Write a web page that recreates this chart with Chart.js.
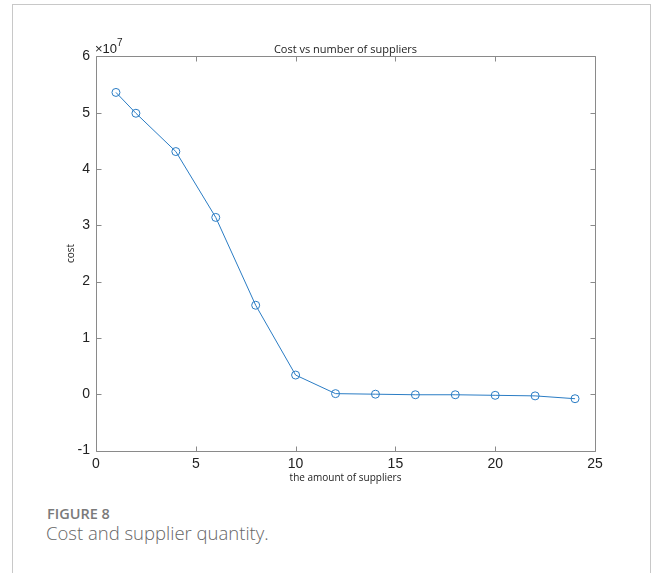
<!DOCTYPE html>
<html>
<head>
<meta charset="utf-8">
<script src="https://cdn.jsdelivr.net/npm/chart.js@4/dist/chart.umd.min.js"></script>
<style>
html,body{margin:0;padding:0;background:#fff;width:656px;height:573px;overflow:hidden;}
#frame{position:absolute;left:12px;top:4px;width:637px;height:640px;border:1.5px solid #c8c8c8;border-bottom:none;}
#wrap{position:absolute;left:0;top:0;width:656px;height:495px;}
#exp{position:absolute;left:95px;top:41px;font-family:'Liberation Sans',Arial,sans-serif;font-size:13px;line-height:15px;color:#222;white-space:nowrap;}
#exp sup{font-size:10px;position:relative;top:-3px;vertical-align:top;line-height:10px;}
#figlabel{position:absolute;left:47px;top:503.5px;font-family:'Open Sans',sans-serif;font-weight:600;font-size:14.5px;color:#7a7a7a;}
#figcap{position:absolute;left:46px;top:520px;font-family:'Open Sans',sans-serif;font-weight:300;font-size:18.5px;color:#666;}
</style>
</head>
<body>
<div id="frame"></div>
<div id="wrap"><canvas id="c" width="656" height="495"></canvas></div>
<div id="exp">×10<sup>7</sup></div>
<div id="figlabel">FIGURE 8</div>
<div id="figcap">Cost and supplier quantity.</div>
<script>
const chartTitle = 'Cost vs number of suppliers';
const xAxisTitle = 'the amount of suppliers';
const yAxisTitle = 'cost';
const supplierCounts = [1, 2, 4, 6, 8, 10, 12, 14, 16, 18, 20, 22, 24];
const costValues = [53600000, 49900000, 43100000, 31400000, 15800000, 3400000, 100000, 0, -100000, -100000, -200000, -300000, -800000];
const xTickValues = [0, 5, 10, 15, 20, 25];
const yTickValues = [-1, 0, 1, 2, 3, 4, 5, 6];
const yExponent = 1e7;

const points = supplierCounts.map((x, i) => ({ x: x, y: costValues[i] }));

const boxPlugin = {
  id: 'matlabBox',
  afterDraw(chart) {
    const ctx = chart.ctx;
    const a = chart.chartArea;
    const xs = chart.scales.x, ys = chart.scales.y;
    const L = Math.round(a.left) + 0.5, R = Math.round(a.right) + 0.5;
    const T = Math.round(a.top) + 0.5, B = Math.round(a.bottom) + 0.5;
    ctx.save();
    ctx.strokeStyle = '#8a8a8a';
    ctx.lineWidth = 1;
    ctx.beginPath();
    ctx.rect(L, T, R - L, B - T);
    const tl = 5;
    xs.ticks.forEach(t => {
      const px = Math.round(xs.getPixelForValue(t.value)) + 0.5;
      ctx.moveTo(px, B); ctx.lineTo(px, B - tl);
      ctx.moveTo(px, T); ctx.lineTo(px, T + tl);
    });
    ys.ticks.forEach(t => {
      const py = Math.round(ys.getPixelForValue(t.value)) + 0.5;
      ctx.moveTo(L, py); ctx.lineTo(L + tl, py);
      ctx.moveTo(R, py); ctx.lineTo(R - tl, py);
    });
    ctx.stroke();
    ctx.restore();
  }
};

new Chart(document.getElementById('c'), {
  type: 'line',
  data: {
    datasets: [{
      data: points,
      borderColor: '#2a7cc4',
      borderWidth: 1,
      pointStyle: 'circle',
      pointRadius: 4,
      pointBorderWidth: 1,
      pointBorderColor: '#2a7cc4',
      pointBackgroundColor: 'rgba(0,0,0,0)',
      tension: 0,
      fill: false
    }]
  },
  options: {
    responsive: false,
    animation: false,
    devicePixelRatio: 1,
    layout: { padding: { top: 43.2, right: 61, left: 0, bottom: 0 } },
    plugins: {
      legend: { display: false },
      tooltip: { enabled: false },
      title: {
        display: true,
        text: chartTitle,
        fullSize: false,
        color: '#222',
        font: { family: 'Open Sans', size: 11, weight: 'normal' },
        padding: 0
      }
    },
    scales: {
      x: {
        type: 'linear',
        min: 0, max: 25,
        afterBuildTicks: s => { s.ticks = xTickValues.map(v => ({ value: v })); },
        afterFit: s => { s.height = 495 - 450.5; },
        grid: { display: false, drawTicks: false },
        border: { display: false },
        ticks: { color: '#222', padding: 5, maxRotation: 0, font: { family: 'Liberation Sans', size: 14 } },
        title: { display: true, text: xAxisTitle, color: '#222', font: { family: 'Open Sans', size: 10 }, padding: { top: 0, bottom: 10.7 } }
      },
      y: {
        type: 'linear',
        min: -1 * yExponent, max: 6 * yExponent,
        afterBuildTicks: s => { s.ticks = yTickValues.map(v => ({ value: v * yExponent })); },
        afterFit: s => { s.width = 96; },
        grid: { display: false, drawTicks: false },
        border: { display: false },
        ticks: { color: '#222', padding: 6, callback: v => String(Math.round(v / yExponent)), font: { family: 'Liberation Sans', size: 14 } },
        title: { display: true, text: yAxisTitle, color: '#222', font: { family: 'Open Sans', size: 10 }, padding: { top: 64.7, bottom: 0 } }
      }
    }
  },
  plugins: [boxPlugin]
});
</script>
</body>
</html>
